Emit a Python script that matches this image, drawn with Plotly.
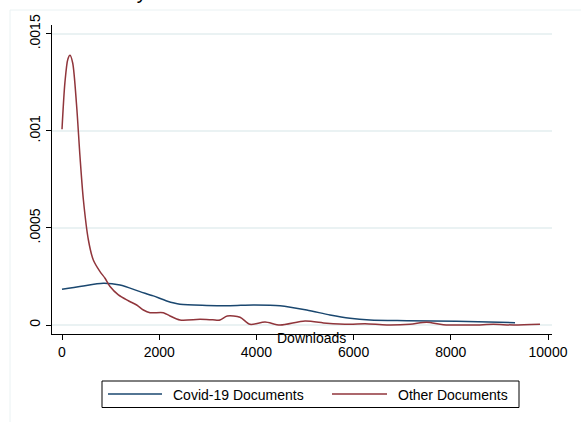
import plotly.graph_objects as go

covid_x = [0, 400, 850, 1193, 1605, 1879, 2154, 2428, 2977, 3457, 3936, 4486, 5035, 5514, 5926, 6337, 7092, 8121, 9321]
covid_y = [0.000184, 0.000200, 0.000215, 0.000206, 0.000172, 0.000150, 0.000124, 0.000107, 0.000101, 0.0000995,
           0.000103, 0.0000995, 0.0000773, 0.0000515, 0.0000345, 0.0000258, 0.0000222, 0.000019, 0.0000119]

other_x = [0, 60, 120, 165, 220, 302, 370, 440, 543, 644, 782, 885, 988, 1160, 1365, 1536, 1674, 1811, 2085,
           2222, 2428, 2840, 3100, 3251, 3400, 3663, 3868, 4177, 4486, 5000, 5446, 5926, 6235, 6681, 7160,
           7503, 7846, 8463, 8875, 9286, 9835]
other_y = [0.001009, 0.00125, 0.00137, 0.00139, 0.00135, 0.001125, 0.000868, 0.000644, 0.000438, 0.000335,
           0.000275, 0.000241, 0.000198, 0.000155, 0.000125, 0.000103, 0.0000773, 0.0000635, 0.0000635,
           0.0000464, 0.0000258, 0.0000292, 0.000027, 0.0000258, 0.0000464, 0.00004, 0.0000036, 0.0000155,
           0.0, 0.0000206, 0.0000088, 0.0000036, 0.0000067, 0.0, 0.0000036, 0.000014, 0.0000015, 0.0,
           0.0000036, 0.0, 0.0000036]

series_names = ["Covid-19 Documents", "Other Documents"]
series_colors = ["#1A476F", "#90353B"]

x_ticks = [0, 2000, 4000, 6000, 8000, 10000]
x_ticklabels = ["0", "2000", "4000", "6000", "8000", "10000"]
y_ticks = [0, 0.0005, 0.001, 0.0015]
y_ticklabels = ["0", ".0005", ".001", ".0015"]

FONT = "Liberation Sans, Arial, sans-serif"
W, H = 581, 422
L, R, T, B = 52, 29, 25, 88
pw, ph = W - L - R, H - T - B

def px_x(p):
    return (p - L) / pw

def px_y(p):
    return (H - B - p) / ph

fig = go.Figure()
for xs, ys, nm, col in [(covid_x, covid_y, series_names[0], series_colors[0]),
                        (other_x, other_y, series_names[1], series_colors[1])]:
    fig.add_trace(go.Scatter(x=xs, y=ys, mode="lines", name=nm, showlegend=False,
                             line=dict(color=col, width=1.5, shape="spline", smoothing=0.8)))

shapes = [
    dict(type="rect", xref="paper", yref="paper", x0=px_x(10), x1=px_x(600), y0=px_y(440), y1=px_y(10),
         line=dict(color="#EAF2F3", width=1), fillcolor="rgba(0,0,0,0)", layer="below"),
    # legend box
    dict(type="rect", xref="paper", yref="paper", x0=px_x(102), x1=px_x(519), y0=px_y(407.5), y1=px_y(381),
         line=dict(color="black", width=1), fillcolor="white"),
    dict(type="line", xref="paper", yref="paper", x0=px_x(108), x1=px_x(162), y0=px_y(394), y1=px_y(394),
         line=dict(color=series_colors[0], width=1.5)),
    dict(type="line", xref="paper", yref="paper", x0=px_x(332), x1=px_x(387), y0=px_y(394), y1=px_y(394),
         line=dict(color=series_colors[1], width=1.5)),
]

annotations = [
    dict(text="Downloads", xref="paper", yref="paper", x=px_x(311), y=px_y(338), xanchor="center",
         yanchor="middle", showarrow=False, font=dict(family=FONT, size=14)),
    dict(text="Density", xref="paper", yref="paper", x=px_x(149), y=px_y(5), xanchor="right",
         yanchor="bottom", showarrow=False, font=dict(family=FONT, size=20)),
    dict(text=series_names[0], xref="paper", yref="paper", x=px_x(171), y=px_y(394.5), xanchor="left",
         yanchor="middle", showarrow=False, font=dict(family=FONT, size=14)),
    dict(text=series_names[1], xref="paper", yref="paper", x=px_x(396), y=px_y(394.5), xanchor="left",
         yanchor="middle", showarrow=False, font=dict(family=FONT, size=14)),
]

fig.update_layout(
    width=W, height=H,
    margin=dict(l=L, r=R, t=T, b=B, autoexpand=False),
    paper_bgcolor="white", plot_bgcolor="white",
    font=dict(family=FONT, size=14, color="black"),
    showlegend=False,
    xaxis=dict(range=[-206, 10082], tickvals=x_ticks, ticktext=x_ticklabels, ticks="outside", ticklen=5,
               tickcolor="black", showline=True, linecolor="black", linewidth=1, showgrid=False,
               zeroline=False, tickfont=dict(size=14), automargin=False),
    yaxis=dict(range=[-0.0000464, 0.001546], tickvals=y_ticks, ticktext=y_ticklabels, ticks="outside", ticklen=5,
               tickcolor="black", showline=True, linecolor="black", linewidth=1, showgrid=True,
               gridcolor="#EAF2F3", gridwidth=1.5, zeroline=False, tickangle=-90, tickfont=dict(size=14),
               automargin=False),
    shapes=shapes,
    annotations=annotations,
)

fig.write_html("out.html", config={"displayModeBar": False},
               post_script="document.body.style.margin='0';document.body.style.overflow='hidden';")
